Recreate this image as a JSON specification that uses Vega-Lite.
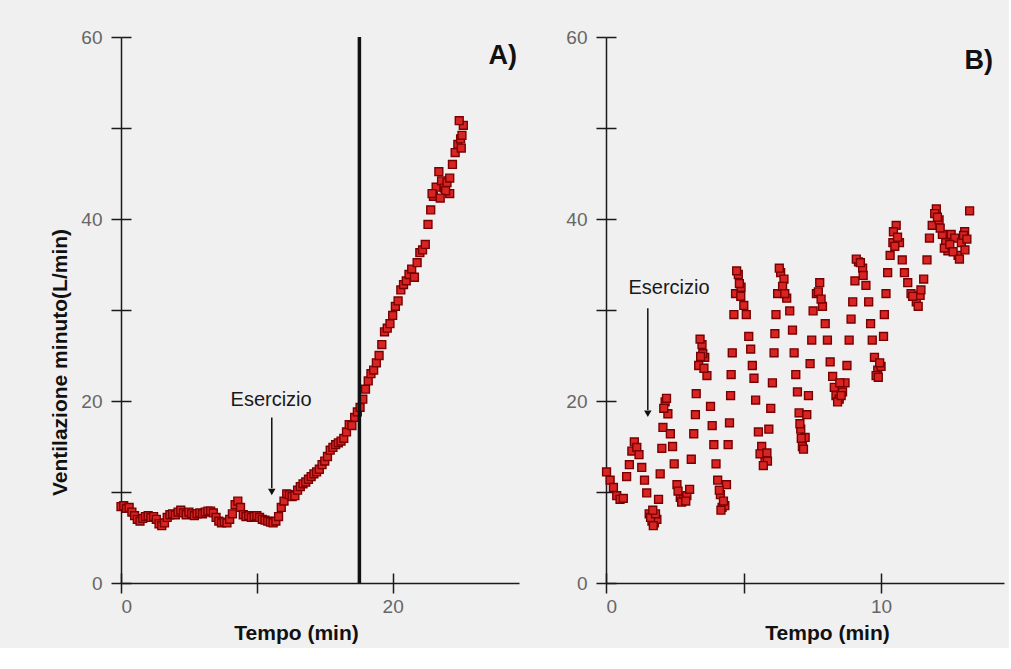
{
  "$schema": "https://vega.github.io/schema/vega-lite/v6.json",
  "background": "#f0f0f0",
  "padding": {"left": 49, "top": 28, "right": 5, "bottom": 5},
  "spacing": 46,
  "config": {
    "view": {"stroke": null, "fill": "#f0f0f0"},
    "font": "Liberation Sans",
    "axis": {
      "grid": false,
      "domainColor": "#1a1a1a",
      "domainWidth": 1.5,
      "tickColor": "#1a1a1a",
      "tickWidth": 1.5,
      "tickSize": 10,
      "labelColor": "#666666",
      "labelFont": "Liberation Sans",
      "labelFontSize": 19,
      "titleFont": "Liberation Sans",
      "titleFontSize": 21,
      "titleFontWeight": "bold",
      "titleColor": "#111111"
    }
  },
  "datasets": {
    "a": [
      {"t":0.0,"v":8.4},{"t":0.2,"v":8.5},{"t":0.4,"v":8.2},{"t":0.6,"v":8.3},{"t":0.8,"v":7.8},
      {"t":1.0,"v":7.4},{"t":1.2,"v":7.0},{"t":1.4,"v":6.8},{"t":1.6,"v":7.1},{"t":1.8,"v":7.3},
      {"t":2.0,"v":7.4},{"t":2.2,"v":7.2},{"t":2.4,"v":7.3},{"t":2.6,"v":7.0},{"t":2.8,"v":6.5},
      {"t":3.0,"v":6.3},{"t":3.2,"v":6.6},{"t":3.4,"v":7.2},{"t":3.6,"v":7.5},{"t":3.8,"v":7.6},
      {"t":4.0,"v":7.5},{"t":4.2,"v":7.8},{"t":4.4,"v":8.0},{"t":4.6,"v":7.7},{"t":4.8,"v":7.5},
      {"t":5.0,"v":7.8},{"t":5.2,"v":7.6},{"t":5.4,"v":7.4},{"t":5.6,"v":7.6},{"t":5.8,"v":7.7},
      {"t":6.0,"v":7.6},{"t":6.2,"v":7.8},{"t":6.4,"v":7.9},{"t":6.6,"v":7.9},{"t":6.8,"v":7.7},
      {"t":7.0,"v":7.2},{"t":7.2,"v":6.8},{"t":7.4,"v":6.6},{"t":7.6,"v":6.7},{"t":7.8,"v":6.6},
      {"t":8.0,"v":7.0},{"t":8.2,"v":7.6},{"t":8.4,"v":8.6},{"t":8.6,"v":9.0},{"t":8.8,"v":8.3},
      {"t":9.0,"v":7.5},{"t":9.2,"v":7.3},{"t":9.4,"v":7.4},{"t":9.6,"v":7.2},{"t":9.8,"v":7.3},
      {"t":10.0,"v":7.4},{"t":10.2,"v":7.2},{"t":10.4,"v":7.0},{"t":10.6,"v":6.9},{"t":10.8,"v":6.8},
      {"t":11.0,"v":6.7},{"t":11.2,"v":6.6},{"t":11.4,"v":6.8},{"t":11.6,"v":7.3},{"t":11.8,"v":8.3},
      {"t":12.0,"v":9.0},{"t":12.2,"v":9.8},{"t":12.4,"v":9.7},{"t":12.6,"v":9.5},{"t":12.8,"v":9.6},
      {"t":13.0,"v":10.2},{"t":13.2,"v":10.6},{"t":13.4,"v":10.9},{"t":13.6,"v":11.1},{"t":13.8,"v":11.4},
      {"t":14.0,"v":11.7},{"t":14.2,"v":12.0},{"t":14.4,"v":12.2},{"t":14.6,"v":12.5},{"t":14.8,"v":13.0},
      {"t":15.0,"v":13.4},{"t":15.2,"v":13.9},{"t":15.4,"v":14.6},{"t":15.6,"v":14.9},{"t":15.8,"v":15.2},
      {"t":16.0,"v":15.4},{"t":16.2,"v":15.6},{"t":16.4,"v":15.9},{"t":16.6,"v":16.6},{"t":16.8,"v":17.4},
      {"t":17.0,"v":17.3},{"t":17.2,"v":18.2},{"t":17.4,"v":18.8},{"t":17.6,"v":19.3},{"t":17.8,"v":20.2},
      {"t":18.0,"v":21.3},{"t":18.2,"v":22.2},{"t":18.4,"v":23.0},{"t":18.6,"v":23.4},{"t":18.8,"v":24.2},
      {"t":19.0,"v":25.0},{"t":19.2,"v":26.2},{"t":19.4,"v":27.6},{"t":19.6,"v":28.0},{"t":19.8,"v":28.5},
      {"t":20.0,"v":29.4},{"t":20.2,"v":30.4},{"t":20.4,"v":31.0},{"t":20.6,"v":32.2},{"t":20.8,"v":32.8},
      {"t":21.0,"v":33.2},{"t":21.2,"v":33.9},{"t":21.4,"v":34.5},{"t":21.6,"v":33.6},{"t":21.8,"v":35.2},
      {"t":22.0,"v":36.3},{"t":22.2,"v":36.6},{"t":22.4,"v":37.2},{"t":22.6,"v":39.4},{"t":22.8,"v":41.0},
      {"t":23.0,"v":42.5},{"t":23.2,"v":43.5},{"t":23.4,"v":45.2},{"t":23.6,"v":44.2},{"t":23.8,"v":43.4},
      {"t":24.0,"v":44.0},{"t":24.2,"v":44.5},{"t":24.4,"v":46.0},{"t":24.6,"v":47.3},{"t":24.8,"v":48.2},
      {"t":25.0,"v":48.8},{"t":25.2,"v":50.3},{"t":25.1,"v":49.2},{"t":24.2,"v":42.8},{"t":23.9,"v":43.1},
      {"t":24.9,"v":50.8},{"t":25.05,"v":47.8},{"t":23.5,"v":42.3},{"t":22.9,"v":42.8}
    ],
    "b": [
      {"t":0.02,"v":12.2},{"t":0.15,"v":11.3},{"t":0.27,"v":10.5},{"t":0.39,"v":9.6},{"t":0.51,"v":9.2},
      {"t":0.63,"v":9.3},{"t":0.75,"v":11.7},{"t":0.85,"v":13.0},{"t":0.94,"v":14.5},{"t":1.03,"v":15.5},
      {"t":1.12,"v":14.9},{"t":1.20,"v":14.1},{"t":1.30,"v":12.7},{"t":1.40,"v":11.3},{"t":1.48,"v":9.9},
      {"t":1.57,"v":7.6},{"t":1.67,"v":6.8},{"t":1.76,"v":6.6},{"t":1.85,"v":7.0},{"t":1.91,"v":9.2},
      {"t":1.97,"v":12.0},{"t":2.03,"v":14.8},{"t":2.07,"v":17.1},{"t":2.15,"v":19.9},{"t":2.25,"v":18.6},
      {"t":2.34,"v":16.4},{"t":2.42,"v":15.0},{"t":2.48,"v":13.1},{"t":2.58,"v":10.8},{"t":2.70,"v":9.4},
      {"t":2.82,"v":9.3},{"t":2.94,"v":9.6},{"t":3.04,"v":10.3},{"t":3.10,"v":13.6},{"t":3.19,"v":16.4},
      {"t":3.25,"v":18.5},{"t":3.28,"v":20.8},{"t":3.37,"v":23.9},{"t":3.49,"v":26.2},{"t":3.59,"v":24.8},
      {"t":3.67,"v":22.8},{"t":3.80,"v":19.4},{"t":3.86,"v":17.3},{"t":3.92,"v":15.2},{"t":4.00,"v":13.1},
      {"t":4.06,"v":11.3},{"t":4.16,"v":9.7},{"t":4.22,"v":8.3},{"t":4.32,"v":8.5},{"t":4.38,"v":10.8},
      {"t":4.44,"v":15.2},{"t":4.49,"v":17.6},{"t":4.53,"v":20.6},{"t":4.55,"v":22.9},{"t":4.59,"v":25.3},
      {"t":4.65,"v":29.5},{"t":4.71,"v":31.8},{"t":4.81,"v":33.9},{"t":4.91,"v":32.5},{"t":5.01,"v":30.5},
      {"t":5.10,"v":29.5},{"t":5.19,"v":27.1},{"t":5.26,"v":25.7},{"t":5.32,"v":23.9},{"t":5.38,"v":22.5},
      {"t":5.44,"v":20.1},{"t":5.54,"v":16.6},{"t":5.66,"v":15.0},{"t":5.78,"v":13.6},{"t":5.87,"v":13.4},
      {"t":5.92,"v":16.9},{"t":5.99,"v":19.2},{"t":6.05,"v":22.0},{"t":6.11,"v":25.3},{"t":6.14,"v":27.4},
      {"t":6.18,"v":29.5},{"t":6.24,"v":31.8},{"t":6.35,"v":34.1},{"t":6.47,"v":33.4},{"t":6.57,"v":31.3},
      {"t":6.68,"v":29.9},{"t":6.78,"v":27.8},{"t":6.84,"v":25.3},{"t":6.90,"v":22.9},{"t":6.96,"v":21.0},
      {"t":7.02,"v":18.7},{"t":7.08,"v":16.9},{"t":7.14,"v":15.0},{"t":7.24,"v":16.0},{"t":7.30,"v":18.5},
      {"t":7.36,"v":20.6},{"t":7.42,"v":24.1},{"t":7.48,"v":26.7},{"t":7.53,"v":29.9},{"t":7.65,"v":31.8},
      {"t":7.77,"v":33.0},{"t":7.87,"v":30.4},{"t":7.97,"v":28.5},{"t":8.05,"v":26.7},{"t":8.15,"v":24.3},
      {"t":8.24,"v":22.7},{"t":8.36,"v":20.6},{"t":8.48,"v":20.2},{"t":8.60,"v":21.0},{"t":8.69,"v":22.0},
      {"t":8.76,"v":23.9},{"t":8.84,"v":26.7},{"t":8.91,"v":29.0},{"t":8.97,"v":30.9},{"t":9.05,"v":33.2},
      {"t":9.18,"v":35.3},{"t":9.33,"v":34.6},{"t":9.45,"v":32.7},{"t":9.55,"v":30.9},{"t":9.62,"v":28.5},
      {"t":9.68,"v":26.7},{"t":9.76,"v":24.8},{"t":9.88,"v":23.4},{"t":10.00,"v":23.8},{"t":10.09,"v":27.1},
      {"t":10.12,"v":29.5},{"t":10.18,"v":31.8},{"t":10.24,"v":34.1},{"t":10.33,"v":36.0},{"t":10.43,"v":37.4},
      {"t":10.55,"v":39.3},{"t":10.67,"v":37.4},{"t":10.77,"v":35.5},{"t":10.85,"v":34.1},{"t":10.97,"v":33.0},
      {"t":11.09,"v":31.8},{"t":11.28,"v":30.9},{"t":11.42,"v":31.6},{"t":11.55,"v":33.4},{"t":11.67,"v":35.5},
      {"t":11.76,"v":37.9},{"t":11.86,"v":39.3},{"t":12.01,"v":41.1},{"t":12.11,"v":39.9},{"t":12.23,"v":38.3},
      {"t":12.35,"v":37.4},{"t":12.43,"v":36.5},{"t":12.55,"v":38.3},{"t":12.68,"v":37.9},{"t":12.80,"v":36.0},
      {"t":12.92,"v":37.4},{"t":13.04,"v":38.6},{"t":13.22,"v":40.9},
      {"t":1.62,"v":7.2},{"t":1.72,"v":6.3},{"t":1.80,"v":7.6},{"t":1.70,"v":8.0},
      {"t":2.10,"v":19.2},{"t":2.20,"v":20.3},
      {"t":2.62,"v":10.1},{"t":2.75,"v":8.9},{"t":2.90,"v":9.0},
      {"t":3.42,"v":26.8},{"t":3.52,"v":25.2},{"t":3.44,"v":24.9},{"t":3.56,"v":23.6},
      {"t":4.18,"v":8.0},{"t":4.27,"v":9.0},{"t":4.12,"v":10.2},
      {"t":4.75,"v":34.3},{"t":4.85,"v":32.9},{"t":4.90,"v":31.5},
      {"t":5.60,"v":14.2},{"t":5.72,"v":12.9},{"t":5.85,"v":14.3},
      {"t":6.30,"v":34.6},{"t":6.42,"v":32.6},{"t":6.50,"v":31.8},
      {"t":7.10,"v":15.9},{"t":7.18,"v":14.7},{"t":7.05,"v":17.5},
      {"t":7.72,"v":32.0},{"t":7.82,"v":31.2},
      {"t":8.30,"v":21.5},{"t":8.42,"v":19.9},{"t":8.55,"v":20.6},{"t":8.50,"v":22.0},
      {"t":9.10,"v":35.6},{"t":9.25,"v":35.2},{"t":9.35,"v":33.8},
      {"t":9.82,"v":22.8},{"t":9.95,"v":24.2},{"t":9.90,"v":22.6},
      {"t":10.45,"v":38.6},{"t":10.60,"v":38.0},{"t":10.50,"v":37.0},
      {"t":11.15,"v":31.5},{"t":11.35,"v":30.4},{"t":11.45,"v":32.2},
      {"t":11.95,"v":40.6},{"t":12.05,"v":40.2},{"t":12.15,"v":39.0},
      {"t":12.30,"v":36.8},{"t":12.50,"v":37.2},{"t":12.62,"v":36.4},{"t":12.85,"v":35.6},{"t":13.00,"v":38.2},{"t":13.12,"v":37.8},{"t":13.05,"v":36.6}
    ]
  },
  "hconcat": [
    {
      "width": 398,
      "height": 546,
      "resolve": {"axis": {"x": "independent", "y": "independent"}},
      "layer": [
        {
          "data": {"name": "a"},
          "mark": {"type": "square", "size": 62, "filled": true, "fill": "#d92424", "stroke": "#780000", "strokeWidth": 1.4, "opacity": 1},
          "encoding": {
            "x": {"field": "t", "type": "quantitative", "scale": {"domain": [0, 29.3], "nice": false, "zero": false},
                  "axis": {"values": [0, 10, 20], "labelExpr": "datum.value % 20 === 0 ? datum.label : ''", "labelPadding": 4, "title": "Tempo (min)", "titlePadding": 6, "titleX": 175}},
            "y": {"field": "v", "type": "quantitative", "scale": {"domain": [0, 60], "nice": false, "zero": false},
                  "axis": {"values": [0, 10, 20, 30, 40, 50, 60], "labelExpr": "datum.value % 20 === 0 ? datum.label : ''", "labelPadding": 9, "title": "Ventilazione minuto(L/min)", "titlePadding": 10, "titleY": 325}}
          }
        },
        {
          "data": {"values": [{"t": 17.55}]},
          "mark": {"type": "rule", "color": "#111111", "strokeWidth": 3.5},
          "encoding": {"x": {"field": "t", "type": "quantitative", "scale": {"domain": [0, 29.3], "nice": false, "zero": false}, "axis": null}}
        },
        {
          "data": {"values": [{"t": 11.1, "v": 18.2, "v2": 10.4}]},
          "mark": {"type": "rule", "color": "#111111", "strokeWidth": 1.5},
          "encoding": {
            "x": {"field": "t", "type": "quantitative", "scale": {"domain": [0, 29.3], "nice": false, "zero": false},
                  "axis": {"orient": "bottom", "values": [0, 10, 20], "tickSize": -10, "labels": false, "domain": false, "title": null}},
            "y": {"field": "v", "type": "quantitative", "scale": {"domain": [0, 60], "nice": false, "zero": false},
                  "axis": {"orient": "left", "values": [0, 10, 20, 30, 40, 50, 60], "tickSize": -10, "labels": false, "domain": false, "title": null}},
            "y2": {"field": "v2"}
          }
        },
        {
          "data": {"values": [{"t": 11.1, "v": 10.0}]},
          "mark": {"type": "point", "shape": "triangle-down", "filled": true, "color": "#111111", "size": 55, "opacity": 1},
          "encoding": {
            "x": {"field": "t", "type": "quantitative", "scale": {"domain": [0, 29.3], "nice": false, "zero": false}, "axis": null},
            "y": {"field": "v", "type": "quantitative", "scale": {"domain": [0, 60], "nice": false, "zero": false}, "axis": null}
          }
        },
        {
          "data": {"values": [{"t": 11.05, "v": 20.1, "label": "Esercizio"}]},
          "mark": {"type": "text", "align": "center", "baseline": "middle", "color": "#1a1a1a", "fontSize": 20},
          "encoding": {
            "x": {"field": "t", "type": "quantitative", "scale": {"domain": [0, 29.3], "nice": false, "zero": false}, "axis": null},
            "y": {"field": "v", "type": "quantitative", "scale": {"domain": [0, 60], "nice": false, "zero": false}, "axis": null},
            "text": {"field": "label"}
          }
        },
        {
          "data": {"values": [{"t": 28.1, "v": 57.9, "label": "A)"}]},
          "mark": {"type": "text", "align": "center", "baseline": "middle", "color": "#111111", "fontSize": 27, "fontWeight": "bold"},
          "encoding": {
            "x": {"field": "t", "type": "quantitative", "scale": {"domain": [0, 29.3], "nice": false, "zero": false}, "axis": null},
            "y": {"field": "v", "type": "quantitative", "scale": {"domain": [0, 60], "nice": false, "zero": false}, "axis": null},
            "text": {"field": "label"}
          }
        }
      ]
    },
    {
      "width": 398,
      "height": 546,
      "resolve": {"axis": {"x": "independent", "y": "independent"}},
      "layer": [
        {
          "data": {"name": "b"},
          "mark": {"type": "square", "size": 62, "filled": true, "fill": "#d92424", "stroke": "#780000", "strokeWidth": 1.4, "opacity": 1},
          "encoding": {
            "x": {"field": "t", "type": "quantitative", "scale": {"domain": [0, 14.47], "nice": false, "zero": false},
                  "axis": {"values": [0, 5, 10], "labelExpr": "datum.value % 10 === 0 ? datum.label : ''", "labelPadding": 4, "title": "Tempo (min)", "titlePadding": 6, "titleX": 221}},
            "y": {"field": "v", "type": "quantitative", "scale": {"domain": [0, 60], "nice": false, "zero": false},
                  "axis": {"values": [0, 10, 20, 30, 40, 50, 60], "labelExpr": "datum.value % 20 === 0 ? datum.label : ''", "labelPadding": 9, "title": null}}
          }
        },
        {
          "data": {"values": [{"t": 1.52, "v": 30.2, "v2": 19.0}]},
          "mark": {"type": "rule", "color": "#111111", "strokeWidth": 1.5},
          "encoding": {
            "x": {"field": "t", "type": "quantitative", "scale": {"domain": [0, 14.47], "nice": false, "zero": false},
                  "axis": {"orient": "bottom", "values": [0, 5, 10], "tickSize": -10, "labels": false, "domain": false, "title": null}},
            "y": {"field": "v", "type": "quantitative", "scale": {"domain": [0, 60], "nice": false, "zero": false},
                  "axis": {"orient": "left", "values": [0, 10, 20, 30, 40, 50, 60], "tickSize": -10, "labels": false, "domain": false, "title": null}},
            "y2": {"field": "v2"}
          }
        },
        {
          "data": {"values": [{"t": 1.52, "v": 18.6}]},
          "mark": {"type": "point", "shape": "triangle-down", "filled": true, "color": "#111111", "size": 55, "opacity": 1},
          "encoding": {
            "x": {"field": "t", "type": "quantitative", "scale": {"domain": [0, 14.47], "nice": false, "zero": false}, "axis": null},
            "y": {"field": "v", "type": "quantitative", "scale": {"domain": [0, 60], "nice": false, "zero": false}, "axis": null}
          }
        },
        {
          "data": {"values": [{"t": 2.29, "v": 32.4, "label": "Esercizio"}]},
          "mark": {"type": "text", "align": "center", "baseline": "middle", "color": "#1a1a1a", "fontSize": 20},
          "encoding": {
            "x": {"field": "t", "type": "quantitative", "scale": {"domain": [0, 14.47], "nice": false, "zero": false}, "axis": null},
            "y": {"field": "v", "type": "quantitative", "scale": {"domain": [0, 60], "nice": false, "zero": false}, "axis": null},
            "text": {"field": "label"}
          }
        },
        {
          "data": {"values": [{"t": 13.55, "v": 57.4, "label": "B)"}]},
          "mark": {"type": "text", "align": "center", "baseline": "middle", "color": "#111111", "fontSize": 27, "fontWeight": "bold"},
          "encoding": {
            "x": {"field": "t", "type": "quantitative", "scale": {"domain": [0, 14.47], "nice": false, "zero": false}, "axis": null},
            "y": {"field": "v", "type": "quantitative", "scale": {"domain": [0, 60], "nice": false, "zero": false}, "axis": null},
            "text": {"field": "label"}
          }
        }
      ]
    }
  ]
}
